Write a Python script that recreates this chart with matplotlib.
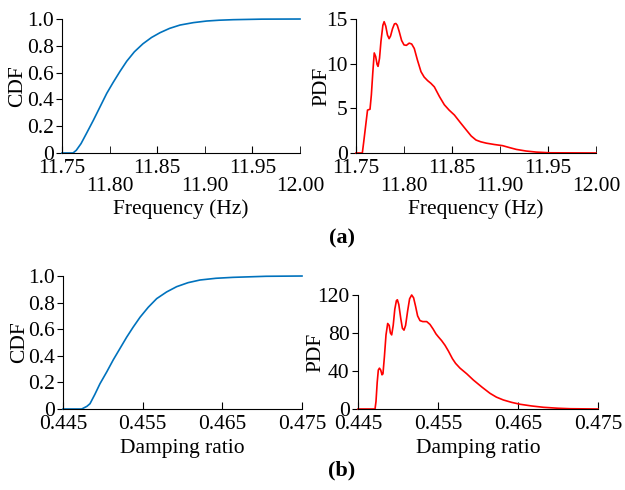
import numpy as np
import matplotlib
matplotlib.use('Agg')
import matplotlib.pyplot as plt

plt.rcParams['font.family'] = ['Liberation Serif', 'DejaVu Serif']
plt.rcParams['font.size'] = 15.5

# frequency CDF (a, left)
freq_cdf_x = [11.75, 11.7616, 11.765, 11.770, 11.776, 11.783, 11.790, 11.797, 11.8036, 11.811,
              11.818, 11.826, 11.835, 11.844, 11.853, 11.863, 11.874, 11.888, 11.902, 11.915,
              11.93, 11.96, 12.00]
freq_cdf_y = [0, 0, 0.02, 0.07, 0.15, 0.245, 0.345, 0.445, 0.525, 0.61,
              0.685, 0.755, 0.815, 0.862, 0.898, 0.93, 0.955, 0.973, 0.985, 0.991,
              0.995, 0.999, 1.0]

# frequency PDF (a, right)
freq_pdf_x = [11.75, 11.7566, 11.758, 11.760, 11.762, 11.7646, 11.766, 11.7675, 11.769, 11.7705,
              11.772, 11.773, 11.7745, 11.776, 11.778, 11.7793, 11.781, 11.7828, 11.7845, 11.786,
              11.788, 11.790, 11.7915, 11.793, 11.795, 11.7975, 11.800, 11.8025, 11.8054, 11.808,
              11.8107, 11.814, 11.8177, 11.821, 11.8246, 11.828, 11.8316, 11.837, 11.842, 11.847,
              11.8525, 11.8587, 11.8647, 11.870, 11.875, 11.880, 11.8857, 11.894, 11.9027, 11.910,
              11.917, 11.927, 11.9377, 11.952, 12.00]
freq_pdf_y = [0, 0, 1.2, 3.0, 4.8, 4.9, 6.5, 9.0, 11.2, 10.8,
              9.9, 9.7, 10.6, 12.5, 14.3, 14.7, 14.2, 13.2, 12.8, 13.1,
              13.9, 14.45, 14.5, 14.3, 13.6, 12.6, 12.1, 12.05, 12.3, 12.2,
              11.7, 10.4, 9.1, 8.5, 8.1, 7.8, 7.4, 6.3, 5.4, 4.8,
              4.25, 3.4, 2.6, 1.9, 1.45, 1.25, 1.1, 0.95, 0.82, 0.6,
              0.4, 0.22, 0.1, 0.02, 0]

# damping CDF (b, left)
damp_cdf_x = [0.445, 0.44735, 0.4480, 0.44839, 0.4490, 0.44964, 0.4505, 0.45131, 0.45215, 0.45299,
              0.4538, 0.45467, 0.4557, 0.45676, 0.4580, 0.45927, 0.4607, 0.4622, 0.4642, 0.46634,
              0.4705, 0.475]
damp_cdf_y = [0, 0, 0.02, 0.04, 0.11, 0.19, 0.28, 0.37, 0.455, 0.54,
              0.615, 0.69, 0.765, 0.83, 0.88, 0.92, 0.95, 0.97, 0.983, 0.99,
              0.998, 1.0]

# damping PDF (b, right)
damp_pdf_x = [0.445, 0.44713, 0.44725, 0.44740, 0.44754, 0.44768, 0.44784, 0.44800, 0.44812, 0.44830,
              0.44850, 0.44871, 0.44890, 0.44905, 0.44921, 0.44940, 0.44960, 0.44980, 0.44992, 0.45010,
              0.45035, 0.45055, 0.45075, 0.45095, 0.45120, 0.45145, 0.45171, 0.45195, 0.45220, 0.45245,
              0.45275, 0.45310, 0.45359, 0.45400, 0.45440, 0.45475, 0.45504, 0.45545, 0.45588, 0.45630,
              0.45680, 0.45720, 0.45775, 0.45860, 0.45942, 0.4605, 0.4615, 0.4623, 0.46317, 0.4642,
              0.46525, 0.4667, 0.46817, 0.4700, 0.4715, 0.475]
damp_pdf_y = [0, 0, 8, 28, 41, 43, 41, 36, 37, 55,
              78, 90, 88, 80, 78, 88, 105, 114, 115, 110,
              95, 85, 83, 88, 103, 116, 120, 117, 108, 98,
              93, 92, 92, 89, 84, 79, 76, 72, 67, 61,
              53, 48, 43, 37, 30.5, 23, 16.5, 12.5, 9.5, 7,
              5, 3.2, 1.8, 0.8, 0.3, 0]

blue = '#0072BD'
red = '#FF0000'

fig = plt.figure(figsize=(6.25, 4.9), dpi=100)
ax1 = fig.add_axes([0.0992, 0.6878, 0.3808, 0.2734])
ax2 = fig.add_axes([0.5696, 0.6878, 0.384, 0.2734])
ax3 = fig.add_axes([0.1008, 0.1653, 0.3824, 0.2714])
ax4 = fig.add_axes([0.5728, 0.1653, 0.384, 0.2327])


def style(ax):
    ax.spines['top'].set_visible(False)
    ax.spines['right'].set_visible(False)
    ax.tick_params(axis='x', which='both', direction='in', length=5, pad=4)
    ax.tick_params(axis='y', direction='out', length=4, pad=2)


def freq_axis(ax):
    ax.set_xlim(11.75, 12.00)
    ax.set_xticks([11.75, 11.85, 11.95])
    ax.set_xticklabels(['11.75', '11.85', '11.95'])
    ax.set_xticks([11.80, 11.90, 12.00], minor=True)
    ax.set_xticklabels(['11.80', '11.90', '12.00'], minor=True)
    ax.tick_params(axis='x', which='minor', pad=17)
    ax.set_xlabel('Frequency (Hz)', labelpad=3)


def damp_axis(ax):
    ax.set_xlim(0.445, 0.475)
    ax.set_xticks([0.445, 0.455, 0.465, 0.475])
    ax.set_xticklabels(['0.445', '0.455', '0.465', '0.475'])
    ax.set_xlabel('Damping ratio', labelpad=4)


for ax in (ax1, ax2, ax3, ax4):
    style(ax)

ax1.plot(freq_cdf_x, freq_cdf_y, color=blue, lw=1.2)
freq_axis(ax1)
ax1.set_ylim(0, 1.0)
ax1.set_yticks([0, 0.2, 0.4, 0.6, 0.8, 1.0])
ax1.set_yticklabels(['0', '0.2', '0.4', '0.6', '0.8', '1.0'])
ax1.set_ylabel('CDF', labelpad=0)

ax2.plot(freq_pdf_x, freq_pdf_y, color=red, lw=1.2)
freq_axis(ax2)
ax2.set_ylim(0, 15)
ax2.set_yticks([0, 5, 10, 15])
ax2.set_ylabel('PDF', labelpad=-4)

ax3.plot(damp_cdf_x, damp_cdf_y, color=blue, lw=1.2)
damp_axis(ax3)
ax3.set_ylim(0, 1.0)
ax3.set_yticks([0, 0.2, 0.4, 0.6, 0.8, 1.0])
ax3.set_yticklabels(['0', '0.2', '0.4', '0.6', '0.8', '1.0'])
ax3.set_ylabel('CDF', labelpad=-1)

ax4.plot(damp_pdf_x, damp_pdf_y, color=red, lw=1.2)
damp_axis(ax4)
ax4.set_ylim(0, 120)
ax4.set_yticks([0, 40, 80, 120])
ax4.set_ylabel('PDF', labelpad=-6)

for ax in (ax1, ax2, ax3, ax4):
    for line in ax.lines:
        line.set_clip_on(False)

fig.text(0.547, 1 - 238 / 490, '(a)', ha='center', va='center', fontsize=16, fontweight='bold')
fig.text(0.547, 1 - 470 / 490, '(b)', ha='center', va='center', fontsize=16, fontweight='bold')

fig.savefig('out.png', dpi=100)
